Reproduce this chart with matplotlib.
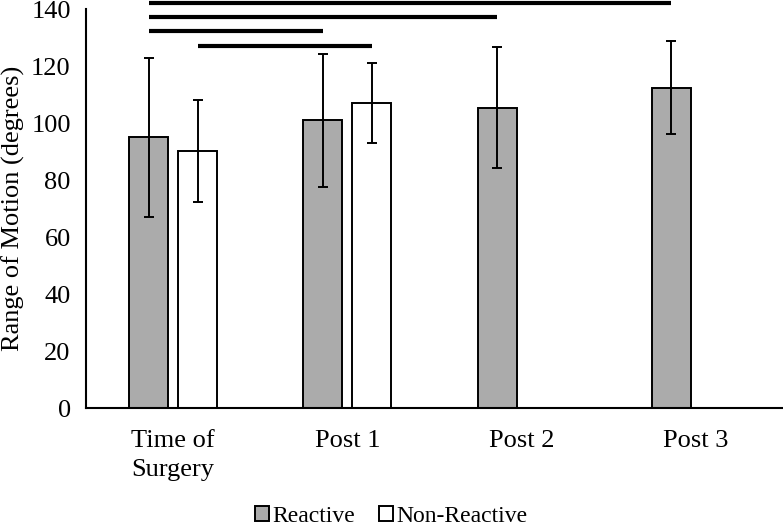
import numpy as np
import matplotlib
matplotlib.use('Agg')
import matplotlib.pyplot as plt
from matplotlib.patches import Patch

plt.rcParams['font.family'] = ['Liberation Serif', 'DejaVu Serif']

# Data
categories = ['Time of\nSurgery', 'Post 1', 'Post 2', 'Post 3']
reactive = [95.0, 101.0, 105.5, 112.5]
reactive_err = [28.0, 23.4, 21.2, 16.2]
non_reactive = [90.3, 107.1]          # only first two time points
non_reactive_err = [18.0, 14.0]

# significance bars: (group_a, series_a, group_b, series_b, height)
sig_pairs = [
    (0, 'R', 3, 'R', 142.3),
    (0, 'R', 2, 'R', 137.4),
    (0, 'R', 1, 'R', 132.4),
    (0, 'N', 1, 'N', 127.2),
]

gray = '#ABABAB'
width = 0.224
off = 0.141

fig = plt.figure(figsize=(7.83, 5.26), dpi=100)
ax = fig.add_axes([0.1098, 0.2243, 0.8902, 0.7580])

x = np.arange(len(categories))
xr = x - off
xn = x[:len(non_reactive)] + off

err_kw = dict(elinewidth=1.4, capsize=3.3, capthick=1.4, ecolor='black')
ax.bar(xr, reactive, width, color=gray, edgecolor='black', linewidth=1.4,
       yerr=reactive_err, error_kw=err_kw, zorder=2)
ax.bar(xn, non_reactive, width, color='white', edgecolor='black', linewidth=1.4,
       yerr=non_reactive_err, error_kw=err_kw, zorder=2)

pos = {'R': xr, 'N': np.concatenate([xn, x[len(non_reactive):] + off])}
for ga, sa, gb, sb, h in sig_pairs:
    ax.plot([pos[sa][ga], pos[sb][gb]], [h, h], color='black', lw=3.0,
            solid_capstyle='butt', clip_on=False, zorder=3)

ax.set_xlim(-0.5, 3.5)
ax.set_ylim(0, 140)
ax.set_yticks(np.arange(0, 141, 20))
ax.set_xticks(x)
ax.set_xticklabels(categories, fontsize=19, linespacing=1.4)
ax.tick_params(axis='y', labelsize=19, length=0, pad=11)
ax.tick_params(axis='x', length=0, pad=16)
ax.set_ylabel('Range of Motion (degrees)', fontsize=19)
ax.yaxis.set_label_coords(-0.087, 0.5)

for s in ['top', 'right']:
    ax.spines[s].set_visible(False)
for s in ['left', 'bottom']:
    ax.spines[s].set_linewidth(1.5)

handles = [Patch(facecolor=gray, edgecolor='black', linewidth=1.4, label='Reactive'),
           Patch(facecolor='white', edgecolor='black', linewidth=1.4, label='Non-Reactive')]
fig.legend(handles=handles, loc='lower center', bbox_to_anchor=(0.5, -0.02), ncol=2,
           frameon=False, fontsize=17, handlelength=0.6, handleheight=0.6,
           handletextpad=0.15, columnspacing=1.0, borderaxespad=0)

fig.savefig('out.png', dpi=100)
